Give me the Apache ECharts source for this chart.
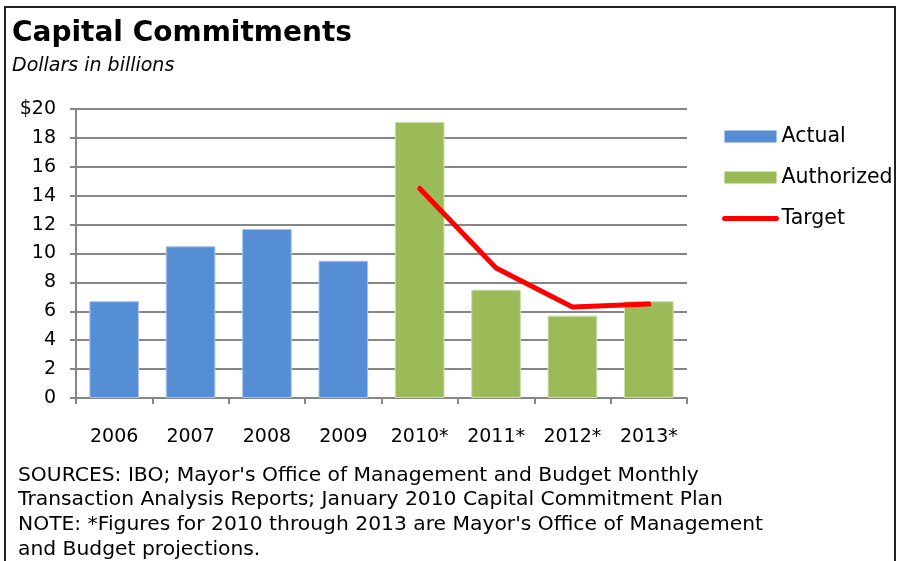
<!DOCTYPE html>
<html>
<head>
<meta charset="utf-8">
<script src="https://cdn.jsdelivr.net/npm/echarts@6/dist/echarts.min.js"></script>
<style>
  html, body { margin: 0; padding: 0; background: #fff; }
  #chart { width: 904px; height: 561px; }
</style>
</head>
<body>
<div id="chart"></div>
<script>
// Fiscal years on the category axis
const years = ['2006', '2007', '2008', '2009', '2010*', '2011*', '2012*', '2013*'];
// Commitments already made (billions of dollars)
const actual = [6.7, 10.5, 11.7, 9.5, '-', '-', '-', '-'];
// Authorized commitments for projected years
const authorized = ['-', '-', '-', '-', 19.1, 7.5, 5.7, 6.7];
// Commitment targets
const target = ['-', '-', '-', '-', 14.5, 9.0, 6.3, 6.5];
// Value-axis ticks
const yTicks = [0, 2, 4, 6, 8, 10, 12, 14, 16, 18, 20];

const FONT = 'DejaVu Sans';
const GRID_GRAY = '#868686';

const footnote = [
  "SOURCES: IBO; Mayor's Office of Management and Budget Monthly",
  'Transaction Analysis Reports; January 2010 Capital Commitment Plan',
  "NOTE: *Figures for 2010 through 2013 are Mayor's Office of Management",
  'and Budget projections.'
].join('\n');

const chart = echarts.init(document.getElementById('chart'), null, { renderer: 'canvas' });

chart.setOption({
  animation: false,
  backgroundColor: '#fff',
  textStyle: { fontFamily: FONT },
  title: {
    text: 'Capital Commitments',
    subtext: 'Dollars in billions',
    left: 7,
    top: 15,
    itemGap: 9,
    textStyle: { fontFamily: FONT, fontWeight: 'bold', fontSize: 28, color: '#000' },
    subtextStyle: { fontFamily: FONT, fontStyle: 'italic', fontSize: 19, color: '#000' }
  },
  legend: {
    orient: 'vertical',
    left: 722,
    top: 126,
    padding: 0,
    itemWidth: 52,
    itemHeight: 12,
    itemGap: 20,
    textStyle: { fontFamily: FONT, fontSize: 20.5, color: '#000' },
    data: [
      { name: 'Actual', icon: 'rect', itemStyle: { borderWidth: 0 } },
      { name: 'Authorized', icon: 'rect', itemStyle: { borderWidth: 0 } },
      {
        name: 'Target',
        itemStyle: { color: 'rgba(0,0,0,0)', borderWidth: 0 },
        lineStyle: { color: '#FF0000', width: 5, cap: 'round' }
      }
    ]
  },
  grid: { left: 76, right: 217, top: 109, bottom: 163 },
  xAxis: {
    type: 'category',
    data: years,
    axisLine: { lineStyle: { color: GRID_GRAY, width: 2 } },
    axisTick: { show: true, length: 6, lineStyle: { color: GRID_GRAY, width: 2 } },
    axisLabel: { margin: 30, fontFamily: FONT, fontSize: 19, color: '#000' }
  },
  yAxis: {
    type: 'value',
    min: 0,
    max: 20,
    interval: 2,
    axisLine: { show: true, lineStyle: { color: GRID_GRAY, width: 2 } },
    axisTick: { show: true, length: 6, lineStyle: { color: GRID_GRAY, width: 2 } },
    splitLine: { lineStyle: { color: GRID_GRAY, width: 2 } },
    axisLabel: {
      margin: 20,
      fontFamily: FONT,
      fontSize: 19,
      color: '#000',
      formatter: v => yTicks.includes(v) ? (v === 20 ? '$20' : String(v)) : ''
    }
  },
  series: [
    {
      name: 'Actual',
      type: 'bar',
      stack: 'total',
      barWidth: '65%',
      data: actual,
      itemStyle: { color: '#558ED5', borderColor: '#A9C4EA', borderWidth: 1 }
    },
    {
      name: 'Authorized',
      type: 'bar',
      stack: 'total',
      barWidth: '65%',
      data: authorized,
      itemStyle: { color: '#9BBB59', borderColor: '#CDDDAC', borderWidth: 1 }
    },
    {
      name: 'Target',
      type: 'line',
      data: target,
      symbol: 'none',
      itemStyle: { color: '#FF0000' },
      lineStyle: { color: '#FF0000', width: 5, cap: 'round', join: 'round' },
      z: 5
    }
  ],
  graphic: [
    {
      type: 'rect',
      shape: { x: 5, y: 7, width: 890, height: 570 },
      style: { fill: 'none', stroke: '#222', lineWidth: 2 },
      silent: true
    },
    {
      type: 'text',
      left: 18,
      top: 463,
      style: {
        text: footnote,
        fontFamily: FONT,
        fontSize: 20.3,
        lineHeight: 24.7,
        fill: '#000'
      }
    }
  ]
});
</script>
</body>
</html>
